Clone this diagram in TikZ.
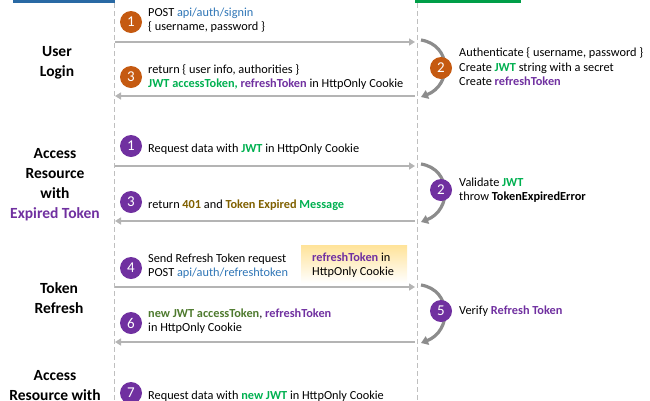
\documentclass[tikz,border=0pt]{standalone}
\usepackage{fontspec}
\setmainfont{Carlito}
\usetikzlibrary{arrows.meta}
\definecolor{cor}{HTML}{C55A11}
\definecolor{cpu}{HTML}{7030A0}
\definecolor{cgr}{HTML}{00B050}
\definecolor{cbl}{HTML}{2E75B6}
\definecolor{cgo}{HTML}{806000}
\definecolor{cdg}{HTML}{4E7A2E}
\definecolor{cline}{HTML}{BFBFBF}
\definecolor{carr}{HTML}{B4B4B4}
\definecolor{ccur}{HTML}{8C8C8C}
\newcommand{\gr}[1]{\textcolor{cgr}{\textbf{#1}}}
\newcommand{\pu}[1]{\textcolor{cpu}{\textbf{#1}}}
\newcommand{\bl}[1]{\textcolor{cbl}{#1}}
\begin{document}
\begin{tikzpicture}[x=1pt,y=-1pt,
  txt/.style={anchor=west,font=\fontsize{12.3}{14.5}\selectfont,align=left,inner sep=0pt},
  lbl/.style={font=\bfseries\fontsize{15.5}{20}\selectfont,align=center},
  num/.style={circle,fill=#1,text=white,minimum size=22pt,inner sep=0pt,font=\fontsize{15}{15}\selectfont},
  msg/.style={draw=carr,line width=1.8pt,-{Triangle[length=6pt,width=7pt]}},
  curl/.style={draw=ccur,line width=3.2pt,-{Triangle[length=7pt,width=9pt]}}]
\useasboundingbox (0,0) rectangle (650,400);
\fill[cbl!90!black] (13,0) rectangle (115,3);
\fill[cgr!90!black] (415,0) rectangle (521,3);
\coordinate (lt) at (114,3); \coordinate (lb) at (114,400);
\coordinate (rt) at (417,3); \coordinate (rb) at (417,400);
\draw[cline,line width=0.8pt,dash pattern=on 5pt off 3pt] (lt) -- (lb);
\draw[cline,line width=0.8pt,dash pattern=on 5pt off 3pt] (rt) -- (rb);
% left labels
\node[lbl] (l1) at (57,63) {User\\Login};
\node[lbl] (l2) at (55,185) {Access\\Resource\\with\\\textcolor{cpu}{Expired Token}};
\node[lbl] (l3) at (59,298) {Token\\Refresh};
\node[lbl,anchor=north] (l4) at (55,367) {Access\\Resource with};
% yellow box
\shade[top color=yellow!45!orange!40,bottom color=white] (301,245) rectangle (407,283);
\node[txt] (yb) at (312,265) {\pu{refreshToken} in\\HttpOnly Cookie};
% coordinates for arrows
\foreach \n/\y in {a/42,b/96,c/166,d/221,e/287,f/342}{
  \coordinate (\n L) at (115,\y); \coordinate (\n R) at (415,\y);}
\draw[msg] (aL) -- (aR);
\draw[msg] (bR) -- (bL);
\draw[msg] (cL) -- (cR);
\draw[msg] (dR) -- (dL);
\draw[msg] (eL) -- (eR);
\draw[msg] (fR) -- (fL);
% curls
\coordinate (c1s) at (421,40); \coordinate (c1e) at (421,97);
\coordinate (c2s) at (421,164); \coordinate (c2e) at (421,222);
\coordinate (c3s) at (421,285); \coordinate (c3e) at (421,343);
\draw[curl] (c1s) .. controls (452,45) and (452,85) .. (c1e);
\draw[curl] (c2s) .. controls (452,169) and (452,210) .. (c2e);
\draw[curl] (c3s) .. controls (452,290) and (452,331) .. (c3e);
% circles
\node[num=cor] (n1) at (131,22) {1};
\node[num=cor] (n3) at (131,77) {3};
\node[num=cor] (n2) at (441,68) {2};
\node[num=cpu] (m1) at (131,146) {1};
\node[num=cpu] (m3) at (131,202) {3};
\node[num=cpu] (m2) at (441,190) {2};
\node[num=cpu] (m4) at (131,268) {4};
\node[num=cpu] (m6) at (131,323) {6};
\node[num=cpu] (m5) at (441,311) {5};
\node[num=cpu] (m7) at (131,393) {7};
% texts
\node[txt] (t1) at (148,20) {POST \bl{api/auth/signin}\\\{ username, password \}};
\node[txt] (t3) at (148,77) {return \{ user info, authorities \}\\\gr{JWT accessToken,} \pu{refreshToken} in HttpOnly Cookie};
\node[txt] (t2) at (459,67) {Authenticate \{ username, password \}\\Create \gr{JWT} string with a secret\\Create \pu{refreshToken}};
\node[txt] (u1) at (148,149) {Request data with \gr{JWT} in HttpOnly Cookie};
\node[txt] (u3) at (148,205) {return \textcolor{cgo}{\textbf{401}} and \textcolor{cgo}{\textbf{Token Expired}} \gr{Message}};
\node[txt] (u2) at (459,190) {Validate \gr{JWT}\\throw \textbf{TokenExpiredError}};
\node[txt] (u4) at (148,266) {Send Refresh Token request\\POST \bl{api/auth/refreshtoken}};
\node[txt] (u6) at (148,321) {\textcolor{cdg}{\textbf{new JWT accessToken}}, \pu{refreshToken}\\in HttpOnly Cookie};
\node[txt] (u5) at (459,311) {Verify \pu{Refresh Token}};
\node[txt] (u7) at (148,396) {Request data with \gr{new JWT} in HttpOnly Cookie};
\end{tikzpicture}
\end{document}
